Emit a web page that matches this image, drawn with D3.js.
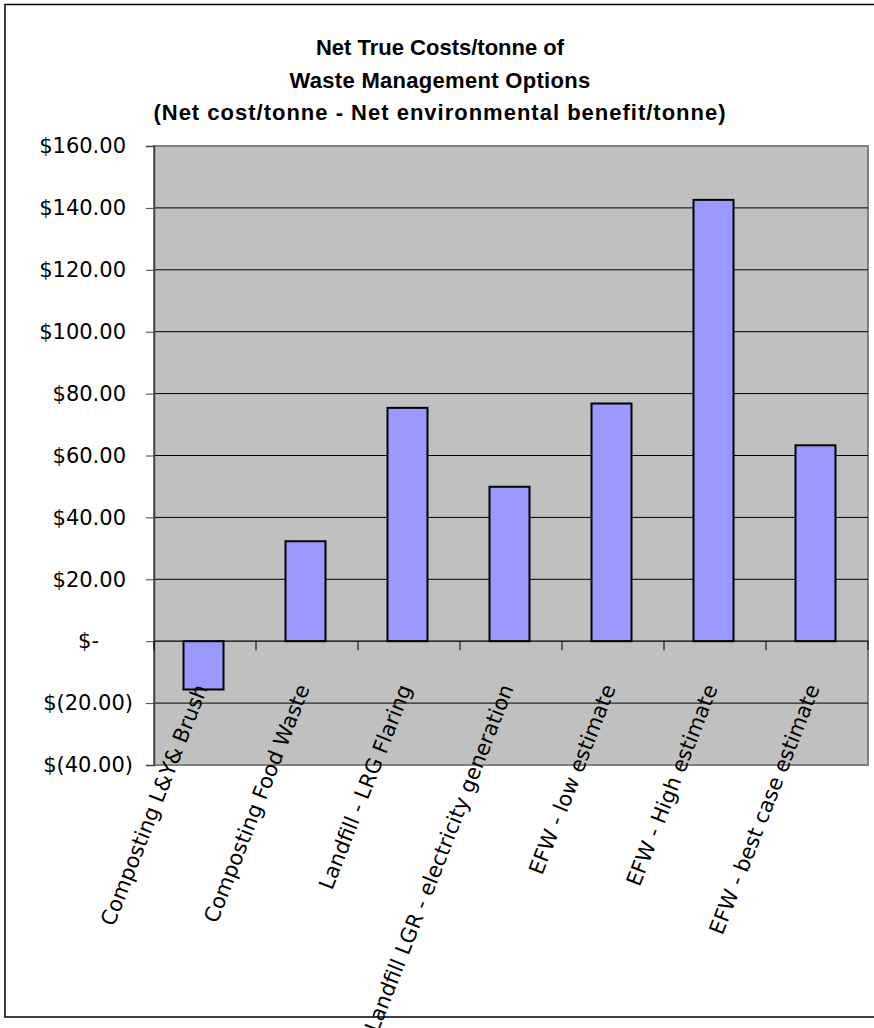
<!DOCTYPE html>
<html>
<head>
<meta charset="utf-8">
<script src="https://cdn.jsdelivr.net/npm/d3@7"></script>
<style>
  html, body { margin: 0; padding: 0; background: #fff; }
  svg { display: block; }
</style>
</head>
<body>
<svg id="chart" width="874" height="1028"></svg>
<script>
const categories = [
  "Composting L&Y& Brush",
  "Composting Food Waste",
  "Landfill - LRG Flaring",
  "Landfill LGR - electricity generation",
  "EFW - low estimate",
  "EFW - High estimate",
  "EFW - best case estimate"
];
const values = [-15.6, 32.3, 75.4, 49.9, 76.8, 142.6, 63.3];
const yTicks = [-40, -20, 0, 20, 40, 60, 80, 100, 120, 140, 160];
const titleLines = [
  "Net True Costs/tonne of",
  "Waste Management Options",
  "(Net cost/tonne - Net environmental benefit/tonne)"
];

const svg = d3.select("#chart");
const plot = { left: 154, right: 868, top: 146, bottom: 765 };

// outer chart border
svg.append("rect")
  .attr("x", 5).attr("y", 4.5).attr("width", 900).attr("height", 1012.5)
  .attr("fill", "#fff").attr("stroke", "#000").attr("stroke-width", 1.5);

const x = d3.scaleBand().domain(categories).range([plot.left, plot.right]).padding(0);
const y = d3.scaleLinear().domain([-40, 160]).range([plot.bottom, plot.top]);

// plot area
svg.append("rect")
  .attr("x", plot.left).attr("y", plot.top)
  .attr("width", plot.right - plot.left).attr("height", plot.bottom - plot.top)
  .attr("fill", "#c0c0c0").attr("stroke", "#808080").attr("stroke-width", 2);

// gridlines
svg.append("g").selectAll("line").data(yTicks.filter(d => d !== 160 && d !== -40 && d !== 0)).join("line")
  .attr("x1", plot.left).attr("x2", plot.right)
  .attr("y1", d => y(d)).attr("y2", d => y(d))
  .attr("stroke", "#000").attr("stroke-width", 1);

// y axis
const fmt = d => d === 0 ? "$-" : (d < 0 ? `$(${Math.abs(d).toFixed(2)})` : `$${d.toFixed(2)}`);
const yAxis = d3.axisLeft(y).tickValues(yTicks).tickSize(8).tickPadding(0).tickFormat(fmt);
const ya = svg.append("g").attr("transform", `translate(${plot.left},0)`).call(yAxis);
ya.select(".domain").attr("stroke", "#404040").attr("stroke-width", 1.5);
ya.selectAll(".tick line").attr("stroke", "#404040");
ya.selectAll(".tick text")
  .attr("font-family", "DejaVu Sans, sans-serif").attr("font-size", 21).attr("fill", "#000")
  .attr("x", d => d === 0 ? -55 : (d < 0 ? -21 : -28));

// bars
const bw = 40;
svg.append("g").selectAll("rect").data(values).join("rect")
  .attr("x", (d, i) => x(categories[i]) + (x.bandwidth() - bw) / 2 - 1.5)
  .attr("width", bw)
  .attr("y", d => y(Math.max(0, d)))
  .attr("height", d => Math.abs(y(d) - y(0)))
  .attr("fill", "#9999ff").attr("stroke", "#000").attr("stroke-width", 2);

// category axis at zero
const xa = svg.append("g").attr("transform", `translate(0,${y(0)})`);
xa.selectAll("line.bt").data(d3.range(categories.length + 1)).join("line")
  .attr("class", "bt")
  .attr("x1", i => plot.left + i * x.step()).attr("x2", i => plot.left + i * x.step())
  .attr("y1", 0).attr("y2", 9).attr("stroke", "#000");
xa.append("line").attr("x1", plot.left).attr("x2", plot.right).attr("y1", 0).attr("y2", 0)
  .attr("stroke", "#000").attr("stroke-width", 1.2);

// category labels
svg.append("g").selectAll("text").data(categories).join("text")
  .attr("transform", d => `translate(${x(d) + x.bandwidth() / 2 + 3},${688}) rotate(-68.5)`)
  .attr("text-anchor", "end")
  .attr("font-family", "DejaVu Sans, sans-serif").attr("font-size", 21).attr("fill", "#000")
  .text(d => d);

// title
const titleSpacing = [0, 0.3, 1];
svg.append("g").selectAll("text").data(titleLines).join("text")
  .attr("x", 440).attr("y", (d, i) => 55 + i * 32.5)
  .attr("text-anchor", "middle")
  .attr("letter-spacing", (d, i) => titleSpacing[i])
  .attr("font-family", "Liberation Sans, Arial, sans-serif")
  .attr("font-weight", "bold").attr("font-size", 22).attr("fill", "#000")
  .text(d => d);
</script>
</body>
</html>
